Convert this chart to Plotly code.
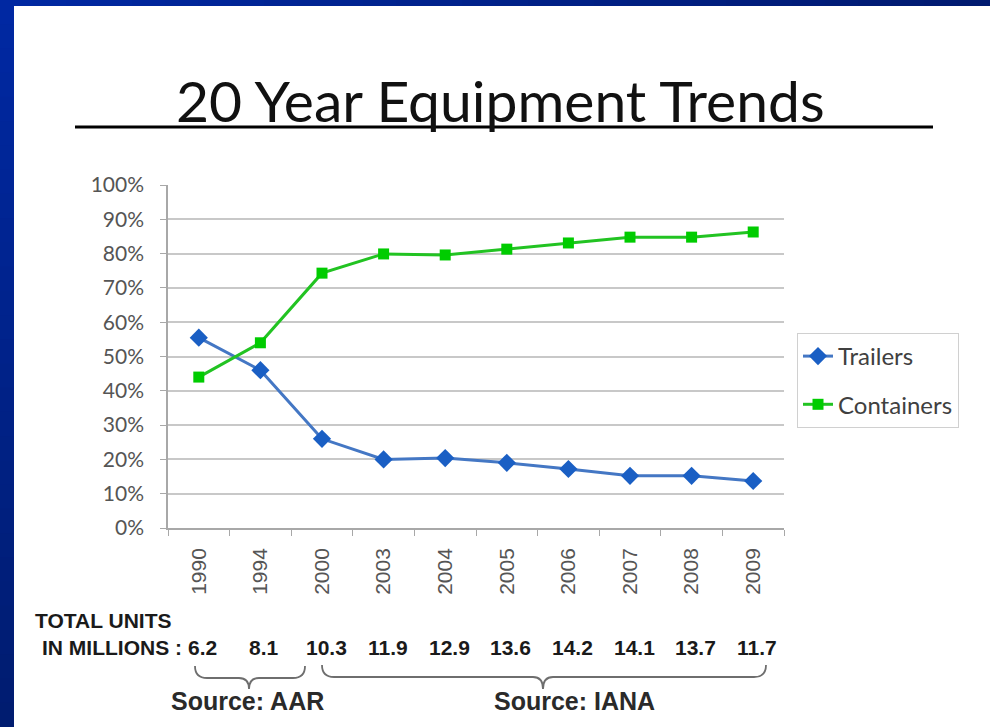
import plotly.graph_objects as go

years = ["1990", "1994", "2000", "2003", "2004", "2005", "2006", "2007", "2008", "2009"]
trailers = [55.5, 46, 26, 20, 20.4, 19, 17.2, 15.2, 15.2, 13.7]
containers = [44, 54, 74.3, 79.9, 79.6, 81.3, 83.1, 84.8, 84.8, 86.3]
total_units = ["6.2", "8.1", "10.3", "11.9", "12.9", "13.6", "14.2", "14.1", "13.7", "11.7"]

W, H = 990, 727
L, R, T, B = 168, 784, 185, 528  # plot area in pixels


def px(x):
    return (x - L) / (R - L)


def py(y):
    return (B - y) / (B - T)


fig = go.Figure()
fig.add_trace(go.Scatter(
    x=years, y=trailers, name="Trailers", mode="lines+markers",
    line=dict(color="#4477c4", width=3),
    marker=dict(symbol="diamond", size=14, color="#1a5fc4"),
    legendgroup="a",
))
fig.add_trace(go.Scatter(
    x=years, y=containers, name="Containers", mode="lines+markers",
    line=dict(color="#22c322", width=3),
    marker=dict(symbol="square", size=11, color="#00cc00"),
    legendgroup="b",
))

shapes = []
# slide background + blue gradient border
shapes.append(dict(type="rect", xref="paper", yref="paper", x0=px(0), x1=px(W), y0=py(H), y1=py(0),
                   fillcolor="#00218e", line=dict(width=0), layer="below"))
N = 30


def mix(c1, c2, t):
    return "#%02x%02x%02x" % tuple(int(round(a + (b - a) * t)) for a, b in zip(c1, c2))


c_start, c_end = (0, 40, 162), (0, 26, 112)
for i in range(N):
    x0 = W * i / N
    x1 = W * (i + 1) / N + 1
    shapes.append(dict(type="rect", xref="paper", yref="paper", x0=px(x0), x1=px(x1), y0=py(6), y1=py(0),
                       fillcolor=mix(c_start, c_end, i / (N - 1)), line=dict(width=0), layer="below"))
    y0 = H * i / N
    y1 = H * (i + 1) / N + 1
    shapes.append(dict(type="rect", xref="paper", yref="paper", x0=px(0), x1=px(14), y0=py(y1), y1=py(y0),
                       fillcolor=mix(c_start, (0, 28, 112), i / (N - 1)), line=dict(width=0), layer="below"))
shapes.append(dict(type="rect", xref="paper", yref="paper", x0=px(14), x1=px(W + 2), y0=py(H + 2), y1=py(6),
                   fillcolor="white", line=dict(width=0), layer="below"))
# title underline
shapes.append(dict(type="line", xref="paper", yref="paper", x0=px(75), x1=px(933), y0=py(127), y1=py(127),
                   line=dict(color="black", width=3)))


def brace(x0, x1, tip, ytop, ymid, ybot):
    p = (f"M {px(x0)},{py(ytop)} Q {px(x0)},{py(ymid)} {px(x0 + 12)},{py(ymid)} "
         f"L {px(tip - 10)},{py(ymid)} Q {px(tip)},{py(ymid)} {px(tip)},{py(ybot)} "
         f"Q {px(tip)},{py(ymid)} {px(tip + 10)},{py(ymid)} "
         f"L {px(x1 - 12)},{py(ymid)} Q {px(x1)},{py(ymid)} {px(x1)},{py(ytop)}")
    return dict(type="path", xref="paper", yref="paper", path=p, line=dict(color="#6e6e6e", width=1.8))


shapes.append(brace(195, 305, 249, 666, 678, 689))
shapes.append(brace(322, 766, 543, 665, 677, 689))

annotations = []
annotations.append(dict(text="20 Year Equipment Trends", xref="paper", yref="paper", x=px(500), y=py(100),
                        xanchor="center", yanchor="middle", showarrow=False,
                        font=dict(family="Lato", size=57, color="#111111")))
bold = dict(family="Liberation Sans, Arial", size=21, color="#1a1a1a")
annotations.append(dict(text="<b>TOTAL UNITS</b>", xref="paper", yref="paper", x=px(33), y=py(620),
                        xanchor="left", yanchor="middle", showarrow=False, font=bold))
annotations.append(dict(text="<b>IN MILLIONS :</b>", xref="paper", yref="paper", x=px(184), y=py(647),
                        xanchor="right", yanchor="middle", showarrow=False, font=bold))
for i, v in enumerate(total_units):
    annotations.append(dict(text=f"<b>{v}</b>", xref="x", yref="paper", x=i, y=py(647), xshift=4,
                            xanchor="center", yanchor="middle", showarrow=False,
                            font=dict(family="Liberation Sans, Arial", size=21, color="#1a1a1a")))
src = dict(family="Liberation Sans, Arial", size=25, color="#2a2a2a")
annotations.append(dict(text="<b>Source: AAR</b>", xref="paper", yref="paper", x=px(247), y=py(701),
                        xanchor="center", yanchor="middle", showarrow=False, font=src))
annotations.append(dict(text="<b>Source: IANA</b>", xref="paper", yref="paper", x=px(574), y=py(701),
                        xanchor="center", yanchor="middle", showarrow=False, font=src))

fig.update_layout(
    width=W, height=H, autosize=False,
    margin=dict(l=L, r=W - R, t=T, b=H - B, pad=0),
    paper_bgcolor="#00218e", plot_bgcolor="white",
    shapes=shapes, annotations=annotations,
    showlegend=True,
    legend=dict(x=px(797), y=py(333), xanchor="left", yanchor="top",
                bordercolor="#d0d0d0", borderwidth=1, bgcolor="white",
                font=dict(family="Lato", size=24, color="#404040"),
                tracegroupgap=14, traceorder="grouped", itemwidth=30),
    xaxis=dict(type="category", categoryorder="array", categoryarray=years, range=[-0.5, len(years) - 0.5],
               tickangle=-90, tickson="boundaries", ticks="outside", ticklen=6, ticklabelstandoff=10,
               tickcolor="#a8a8a8", showline=True, linecolor="#a8a8a8", linewidth=1.5, showgrid=False,
               tickfont=dict(family="Liberation Sans, Arial", size=21, color="#555555")),
    yaxis=dict(range=[0, 100], dtick=10, ticksuffix="%", showgrid=True, gridcolor="#c8c8c8", gridwidth=1.5,
               showline=True, linecolor="#a8a8a8", linewidth=1.5, ticks="outside", ticklen=6,
               ticklabelstandoff=12,
               tickcolor="#a8a8a8", zeroline=False,
               tickfont=dict(family="Lato", size=21, color="#555555")),
)

fig.write_html("out.html")
